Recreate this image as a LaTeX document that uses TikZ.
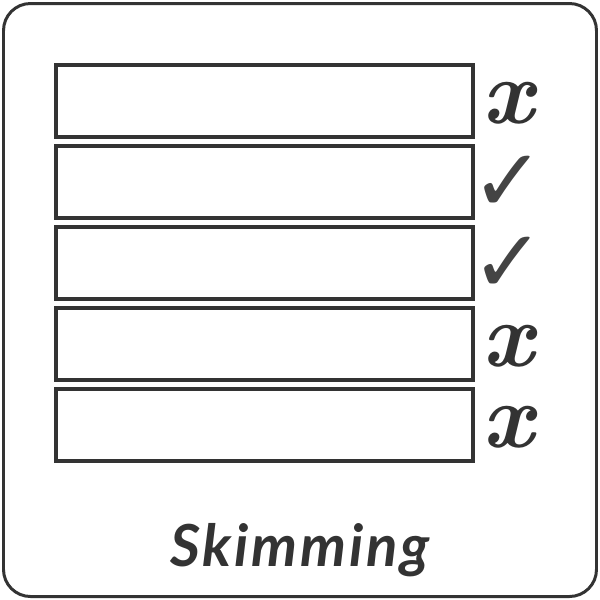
\documentclass[tikz,border=0pt]{standalone}
\usepackage{fontspec}
\newfontfamily\symfont{DejaVu Sans}
\newfontfamily\handfont{Lato}[LetterSpace=5]
\definecolor{ink}{HTML}{333333}
\definecolor{tick}{HTML}{444444}
\newcommand{\nomark}{{\bfseries\itshape x}}
\newcommand{\yesmark}{{\symfont\bfseries\fontsize{50}{50}\selectfont\color{tick}✓}}
\begin{document}
\begin{tikzpicture}[x=0.02cm, y=-0.02cm,
frame/.style={draw=ink, line width=1.7pt, rounded corners=0.54cm},
row/.style={draw=ink, line width=2.5pt, minimum width=8.34cm, minimum height=1.44cm},
verdict/.style={text=ink, inner sep=0pt, font=\fontsize{52}{52}\selectfont},
title/.style={text=ink, font=\handfont\fontsize{33}{33}\selectfont\bfseries\itshape}
]
\useasboundingbox (0,0) rectangle (600,600);
\draw[frame] (3.5,3.5) rectangle (596.5,596.5);
\foreach \i/\m in {1/\nomark,2/\yesmark,3/\yesmark,4/\nomark,5/\nomark} {
  \node[row] (r\i) at (264.5,{101+81*(\i-1)}) {};
  \node[verdict] (v\i) at (508,{103+81*(\i-1)}) {\m};
}
\node[title] (name) at (300,550) {Skimming};
\end{tikzpicture}
\end{document}
